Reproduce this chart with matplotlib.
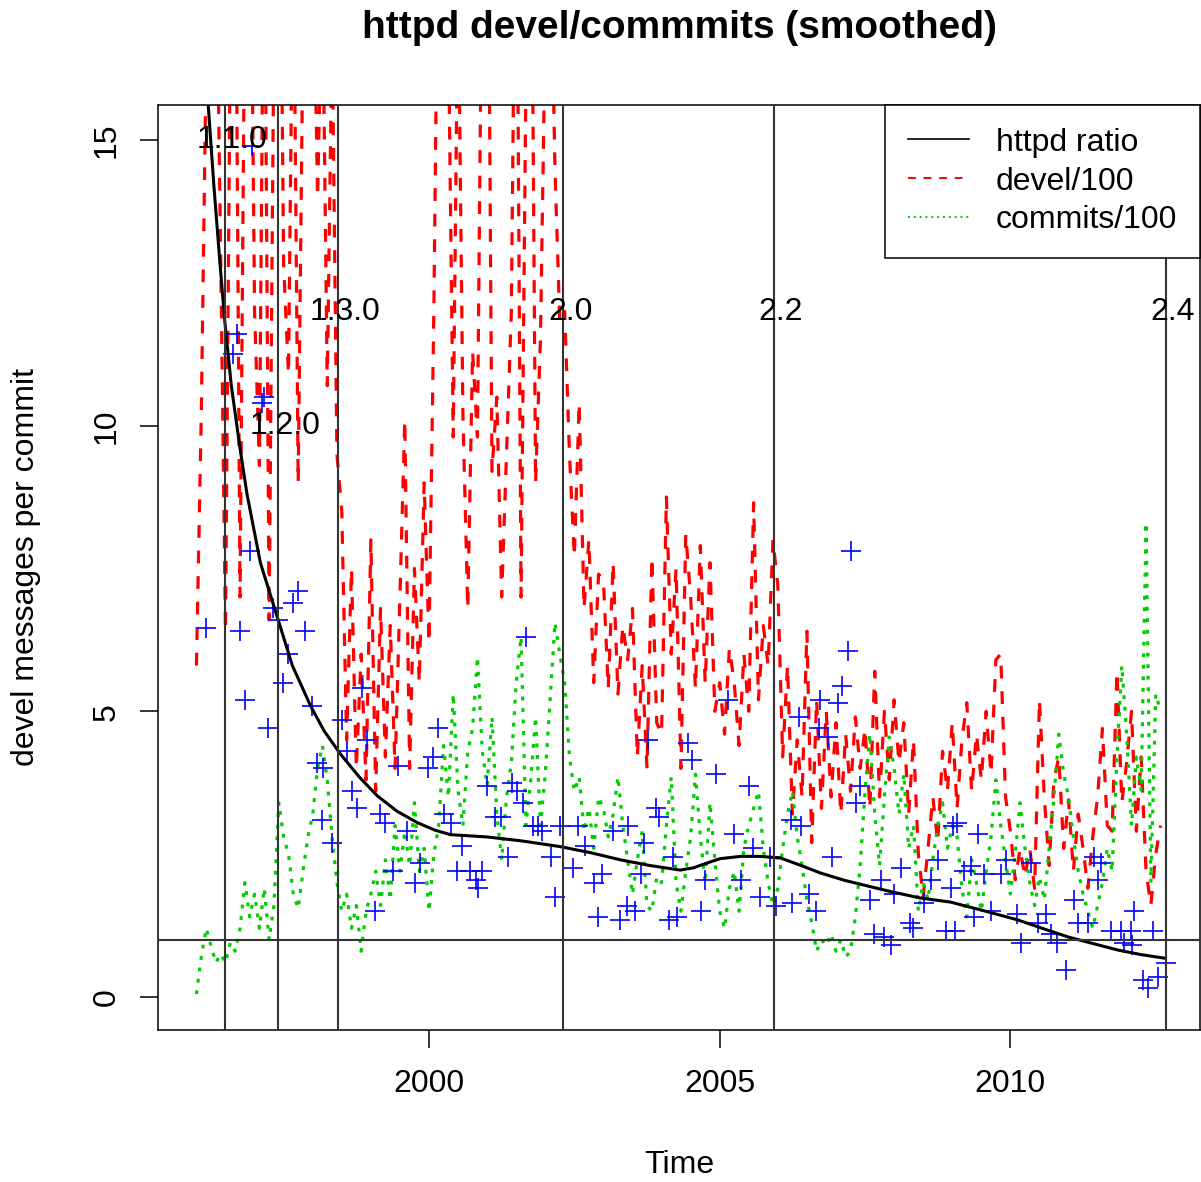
import numpy as np
import matplotlib
matplotlib.use('Agg')
import matplotlib.pyplot as plt
from matplotlib.lines import Line2D

plt.rcParams['font.family'] = ['Liberation Sans', 'DejaVu Sans']

# monthly series, starting January 1996
start_year = 1996

devel = [
    5.8, 10.2, 16.5, 22.0, 19.0, 13.0, 6.4, 17.0, 20.0, 7.0, 18.0, 21.0,    # 1996
    12.0, 9.3, 20.0, 6.6, 17.0, 22.0, 12.8, 10.9, 19.0, 9.0, 17.0, 21.0,   # 1997
    19.0, 14.0, 18.0, 10.7, 17.0, 9.5, 8.5, 4.5, 7.5, 4.0, 6.0, 3.8,       # 1998
    8.0, 3.6, 6.8, 4.2, 6.5, 4.0, 7.0, 10.1, 4.0, 7.5, 5.5, 9.0,           # 1999
    6.2, 12.0, 20.0, 22.0, 17.0, 9.8, 18.0, 10.2, 6.8, 11.3, 9.8, 19.0,    # 2000
    22.0, 9.2, 10.5, 7.0, 9.5, 12.0, 21.0, 7.0, 16.0, 21.0, 9.0, 11.5,     # 2001
    17.0, 19.0, 14.5, 11.8, 12.0, 9.5, 7.7, 10.4, 6.8, 8.0, 5.5, 7.4,      # 2002
    7.3, 5.4, 7.6, 5.3, 6.5, 5.9, 6.8, 4.2, 5.8, 4.0, 7.7, 4.8,            # 2003
    4.6, 8.75, 6.0, 7.5, 4.0, 8.1, 7.0, 5.4, 7.9, 5.5, 7.6, 5.0,           # 2004
    5.5, 4.6, 6.1, 5.5, 4.4, 6.0, 5.0, 8.65, 5.2, 6.5, 5.8, 8.0,           # 2005
    7.2, 4.2, 5.8, 3.2, 4.5, 3.5, 6.4, 2.7, 5.2, 3.3, 5.0, 3.5,            # 2006
    4.8, 3.2, 4.6, 3.6, 4.9, 4.0, 4.7, 3.3, 5.7, 3.5, 5.0, 3.8,            # 2007
    5.2, 4.1, 4.8, 3.2, 4.5, 2.5, 1.75, 2.6, 3.5, 2.7, 4.3, 3.6,           # 2008
    4.8, 3.3, 4.5, 5.15, 3.6, 4.6, 3.8, 5.0, 3.9, 5.9, 6.0, 3.5,           # 2009
    2.9, 2.05, 2.6, 2.1, 2.6, 1.9, 5.2, 3.5, 2.3, 3.8, 4.2, 2.6,           # 2010
    3.45, 2.2, 3.2, 2.6, 1.9, 2.8, 3.5, 4.7, 3.0, 2.9, 5.7, 3.4,           # 2011
    4.1, 5.0, 2.9, 4.2, 2.2, 1.6, 2.5, 3.0,                                # 2012
]

commits = [
    0.05, 0.7, 1.2, 0.9, 0.6, 0.75, 0.6, 0.95, 0.8, 1.2, 2.0, 1.4,         # 1996
    1.8, 1.2, 1.9, 1.0, 1.6, 3.4, 2.8, 2.5, 1.8, 1.55, 2.2, 2.8,           # 1997
    3.2, 4.0, 4.4, 3.8, 2.8, 2.0, 1.5, 1.8, 1.2, 1.6, 0.8, 1.5,            # 1998
    1.8, 2.2, 1.6, 2.4, 1.7, 3.0, 2.2, 2.9, 2.3, 3.4, 2.2, 2.6,            # 1999
    1.5, 2.5, 3.0, 4.4, 3.5, 5.3, 3.6, 3.0, 4.3, 4.7, 5.95, 4.3,           # 2000
    3.7, 4.9, 3.2, 2.4, 3.5, 4.1, 5.5, 6.3, 3.0, 3.8, 4.9, 3.0,            # 2001
    3.9, 5.2, 6.55, 6.0, 5.5, 4.2, 3.6, 3.85, 2.9, 3.3, 2.6, 3.5,          # 2002
    3.3, 2.8, 3.2, 3.85, 3.0, 2.4, 1.8, 2.4, 2.9, 1.6, 1.5, 2.1,           # 2003
    2.0, 3.0, 3.85, 2.0, 1.5, 2.2, 2.8, 3.9, 2.8, 2.0, 3.4, 2.4,           # 2004
    1.5, 1.2, 1.9, 2.2, 1.5, 2.6, 3.0, 3.3, 3.6, 2.6, 2.0, 1.6,            # 2005
    1.9, 2.6, 3.2, 3.6, 2.8, 2.3, 1.7, 1.3, 0.8, 1.0, 0.9, 1.1,            # 2006
    0.8, 1.0, 0.7, 0.8, 1.4, 2.3, 3.6, 4.6, 3.2, 2.3, 3.5, 4.55,           # 2007
    4.0, 3.2, 3.9, 2.6, 3.0, 1.5, 2.0, 1.7, 2.4, 3.0, 3.4, 2.6,            # 2008
    3.0, 2.8, 1.9, 1.4, 2.4, 2.0, 1.5, 2.2, 2.8, 3.8, 3.0, 2.4,            # 2009
    1.8, 2.5, 3.4, 2.6, 2.0, 1.6, 2.1, 1.7, 2.6, 3.5, 4.6, 3.9,            # 2010
    3.5, 2.8, 2.2, 1.8, 1.5, 1.2, 1.6, 2.0, 2.6, 2.2, 4.2, 5.8,            # 2011
    4.6, 3.0, 4.2, 3.6, 8.3, 2.0, 5.3, 5.0,                                # 2012
]

# monthly ratio points (decimal year, devel messages per commit)
ratio_time = [
    1996.17, 1996.63, 1996.70, 1996.75, 1996.84, 1996.92, 1996.96,
    1997.13, 1997.16, 1997.23, 1997.32, 1997.41, 1997.49, 1997.58, 1997.66, 1997.75, 1997.87, 1997.99,
    1998.08, 1998.16, 1998.18, 1998.33, 1998.51, 1998.59, 1998.68, 1998.77, 1998.85, 1998.94,
    1999.07, 1999.16, 1999.25, 1999.38, 1999.47, 1999.63, 1999.76, 1999.85, 1999.99,
    2000.07, 2000.16, 2000.25, 2000.37, 2000.49, 2000.57, 2000.71, 2000.80, 2000.85, 2000.92,
    2001.00, 2001.14, 2001.23, 2001.36, 2001.43, 2001.52, 2001.62, 2001.66, 2001.79, 2001.88, 2001.95,
    2002.09, 2002.17, 2002.26, 2002.47, 2002.57, 2002.69, 2002.83, 2002.91, 2002.98,
    2003.17, 2003.29, 2003.41, 2003.43, 2003.55, 2003.64, 2003.69, 2003.76, 2003.90, 2003.95,
    2004.12, 2004.19, 2004.27, 2004.45, 2004.53, 2004.67, 2004.75, 2004.93,
    2005.15, 2005.24, 2005.36, 2005.50, 2005.58, 2005.70, 2005.87, 2005.96,
    2006.22, 2006.24, 2006.36, 2006.39, 2006.53, 2006.65, 2006.70, 2006.73, 2006.87, 2006.94,
    2007.03, 2007.11, 2007.20, 2007.25, 2007.34, 2007.42, 2007.59, 2007.65, 2007.77, 2007.82, 2007.94,
    2008.00, 2008.11, 2008.28, 2008.33, 2008.51, 2008.63, 2008.75, 2008.89, 2008.97,
    2009.02, 2009.04, 2009.09, 2009.20, 2009.32, 2009.37, 2009.44, 2009.54, 2009.66, 2009.83, 2009.92,
    2010.12, 2010.18, 2010.35, 2010.47, 2010.61, 2010.69, 2010.81, 2010.95,
    2011.09, 2011.16, 2011.33, 2011.43, 2011.50, 2011.55, 2011.73, 2011.90, 2011.95,
    2012.07, 2012.10, 2012.12, 2012.28, 2012.36, 2012.45, 2012.54, 2012.68,
]
ratio_value = [
    6.45, 11.25, 11.6, 6.4, 5.2, 7.8, 14.9,
    10.4, 10.5, 4.7, 6.8, 6.6, 5.5, 6.0, 6.9, 7.1, 6.4, 5.1,
    4.1, 3.1, 4.0, 2.7, 4.85, 4.3, 3.6, 3.3, 5.4, 4.5,
    1.5, 3.2, 3.05, 2.2, 4.05, 2.9, 2.0, 2.35, 4.0,
    4.2, 4.7, 3.2, 3.05, 2.2, 2.65, 2.2, 2.05, 1.9, 2.2,
    3.7, 3.15, 3.15, 2.45, 3.75, 3.6, 3.4, 6.3, 3.0, 3.0, 2.9,
    2.45, 1.75, 3.0, 2.25, 3.0, 2.65, 2.0, 1.4, 2.15,
    2.9, 1.35, 1.6, 3.0, 1.5, 2.15, 2.7, 4.5, 3.3, 3.15,
    1.35, 2.45, 1.4, 4.45, 4.15, 1.5, 2.05, 3.9,
    5.2, 2.85, 2.05, 3.7, 2.6, 1.75, 2.45, 1.6,
    3.1, 1.65, 4.9, 3.0, 1.8, 1.5, 4.7, 5.2, 4.55, 2.45,
    5.15, 5.45, 6.05, 7.8, 3.4, 3.7, 1.7, 1.1, 2.05, 1.05, 0.9,
    1.8, 2.25, 1.3, 1.2, 1.65, 2.05, 2.4, 1.15, 1.9,
    3.0, 1.15, 3.05, 2.2, 2.3, 1.4, 2.85, 2.15, 1.5, 2.15, 2.4,
    1.45, 0.95, 2.35, 1.3, 1.45, 1.1, 0.95, 0.47,
    1.7, 1.3, 1.3, 2.45, 2.05, 2.35, 1.15, 1.15, 0.95,
    1.15, 0.9, 1.5, 0.3, 0.15, 1.15, 0.35, 0.6,
]

# smoothed httpd ratio
smooth_time = [
    1996.20, 1996.30, 1996.40, 1996.49, 1996.60, 1996.75, 1996.87, 1997.10, 1997.39,
    1997.65, 1997.96, 1998.20, 1998.47, 1998.80, 1999.11, 1999.45, 1999.80, 2000.10,
    2000.37, 2001.00, 2001.60, 2002.26, 2002.80, 2003.29, 2003.80, 2004.32, 2004.55,
    2004.80, 2005.01, 2005.36, 2005.70, 2006.05, 2006.40, 2006.73, 2007.15, 2007.59,
    2008.00, 2008.46, 2008.97, 2009.50, 2010.12, 2010.55, 2010.99, 2011.40, 2011.85,
    2012.25, 2012.64,
]
smooth_value = [
    15.65, 14.2, 12.9, 11.8, 10.7, 9.6, 8.8, 7.6, 6.65,
    5.8, 5.1, 4.65, 4.26, 3.85, 3.52, 3.25, 3.05, 2.92,
    2.84, 2.80, 2.73, 2.63, 2.52, 2.40, 2.30, 2.22, 2.26,
    2.35, 2.42, 2.46, 2.46, 2.43, 2.30, 2.17, 2.04, 1.93,
    1.83, 1.73, 1.66, 1.52, 1.35, 1.20, 1.05, 0.94, 0.82,
    0.74, 0.68,
]

releases = ['1.1.0', '1.2.0', '1.3.0', '2.0', '2.2', '2.4']
release_time = [1996.49, 1997.41, 1998.44, 2002.31, 2005.93, 2012.67]
release_label_y = [15, 10, 12, 12, 12, 12]

t = start_year + np.arange(len(devel)) / 12.0

fig = plt.figure(figsize=(12.015, 11.825), dpi=100)
W, H = 1201.0, 1182.0
ax = fig.add_axes([158 / W, 1 - 1030 / H, (1200 - 158) / W, (1030 - 105) / H])

ax.plot(t, devel, color='#FF0000', lw=2.3, ls=(0, (4, 4)), zorder=2)
ax.plot(t, commits, color='#00CD00', lw=2.3, ls=(0, (1.2, 2.4)), zorder=2)
ax.plot(ratio_time, ratio_value, '+', color='#0000FF', ms=14, mew=1.2, zorder=3)
ax.plot(smooth_time, smooth_value, color='black', lw=2.2, zorder=4)

for name, rt, ly in zip(releases, release_time, release_label_y):
    ax.axvline(rt, color='#333333', lw=1.5, zorder=5)
    ax.text(rt + 0.12, ly, name, ha='center', va='center', fontsize=23, zorder=6)
ax.axhline(1, color='#333333', lw=1.5, zorder=5)

ax.set_xlim(1995.34, 2013.27)
ax.set_ylim(-0.578, 15.62)
ax.set_xticks([2000, 2005, 2010])
ax.set_yticks([0, 5, 10, 15])
ax.tick_params(direction='out', length=13, width=1.1, labelsize=23)
ax.tick_params(axis='x', pad=15)
ax.tick_params(axis='y', pad=13)
for lab in ax.get_yticklabels():
    lab.set_rotation(90)
    lab.set_va('center')
for sp in ax.spines.values():
    sp.set_linewidth(1.1)

handles = [
    Line2D([], [], color='black', lw=1.2),
    Line2D([], [], color='#FF0000', lw=1.4, ls=(0, (4, 4))),
    Line2D([], [], color='#00CD00', lw=1.4, ls=(0, (1, 2))),
]
leg = ax.legend(handles, ['httpd ratio', 'devel/100', 'commits/100'],
                loc='upper right', borderaxespad=0, fancybox=False,
                edgecolor='black', framealpha=1, fontsize=23,
                handlelength=1.9, handletextpad=0.85, borderpad=0.72,
                labelspacing=0.27)
leg.get_frame().set_linewidth(1.1)
leg.set_zorder(10)

fig.text(679 / W, 1 - 28 / H, 'httpd devel/commmits (smoothed)',
         ha='center', va='center', fontsize=28, fontweight='bold')
fig.text(679 / W, 1 - 1165 / H, 'Time', ha='center', va='center', fontsize=23)
fig.text(26 / W, 1 - 567 / H, 'devel messages per commit', rotation=90,
         ha='center', va='center', fontsize=23)

fig.savefig('out.png', dpi=100)
